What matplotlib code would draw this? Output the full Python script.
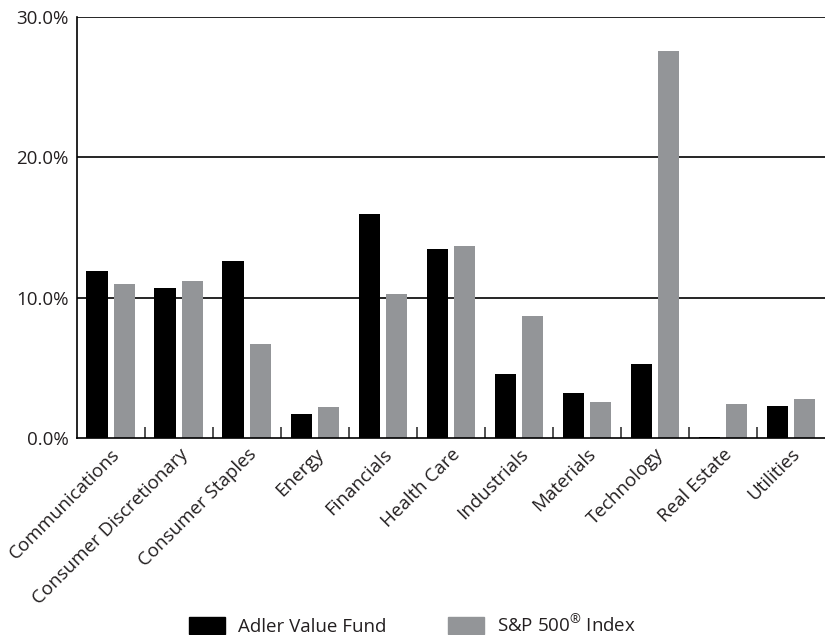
import numpy as np
import matplotlib
matplotlib.use('Agg')
import matplotlib.pyplot as plt
from matplotlib.patches import Patch
from matplotlib.ticker import FixedLocator, PercentFormatter

plt.rcParams['font.family'] = ['Open Sans', 'DejaVu Sans']
plt.rcParams['mathtext.fontset'] = 'custom'
plt.rcParams['mathtext.rm'] = 'Open Sans'

# Sector weights (%)
sectors = ['Communications', 'Consumer Discretionary', 'Consumer Staples', 'Energy',
           'Financials', 'Health Care', 'Industrials', 'Materials', 'Technology',
           'Real Estate', 'Utilities']
fund = [11.9, 10.7, 12.6, 1.7, 16.0, 13.5, 4.6, 3.2, 5.3, 0.05, 2.3]
index = [11.0, 11.2, 6.7, 2.2, 10.3, 13.7, 8.7, 2.6, 27.6, 2.4, 2.8]

fund_color = '#000000'
index_color = '#939598'

fig = plt.figure(figsize=(8.25, 6.35), dpi=100)
ax = fig.add_axes([0.0933, 0.31, 0.9067, 0.663])

x = np.arange(len(sectors))
w = 0.32
ax.bar(x - 0.2, fund, width=w, color=fund_color)
ax.bar(x + 0.2, index, width=w, color=index_color)

ax.set_xlim(-0.5, len(sectors) - 0.5)
ax.set_ylim(0, 30)

# gridlines
for yv in [10, 20, 30]:
    ax.axhline(yv, color='black', lw=1.2, zorder=0)

ax.yaxis.set_major_locator(FixedLocator([0, 10, 20, 30]))
ax.yaxis.set_major_formatter(PercentFormatter(decimals=1))
ax.tick_params(axis='y', length=0, labelsize=13.5, pad=6, labelcolor='#231f20')

ax.set_xticks(x)
ax.set_xticklabels(sectors, rotation=45, ha='right', rotation_mode='anchor',
                   fontsize=13.5, color='#231f20')
ax.tick_params(axis='x', which='major', length=0, pad=5)
ax.xaxis.set_minor_locator(FixedLocator(np.arange(0.5, len(sectors) - 1, 1.0)))
ax.tick_params(axis='x', which='minor', direction='in', length=8, width=1.2, color='#333333')

for s in ['top', 'right']:
    ax.spines[s].set_visible(False)
for s in ['left', 'bottom']:
    ax.spines[s].set_linewidth(1.2)
    ax.spines[s].set_color('black')

handles = [Patch(color=fund_color, label='Adler Value Fund'),
           Patch(color=index_color, label='S&P 500$^{\\mathrm{®}}$ Index')]
leg = fig.legend(handles=handles, loc='lower center', bbox_to_anchor=(0.5, -0.022), ncol=2,
                 frameon=False, fontsize=13.5, handlelength=1.92, handleheight=0.96,
                 columnspacing=3.25, handletextpad=0.7, borderpad=0.2)
for t in leg.get_texts():
    t.set_color('#231f20')

fig.savefig('out.png', dpi=100)
